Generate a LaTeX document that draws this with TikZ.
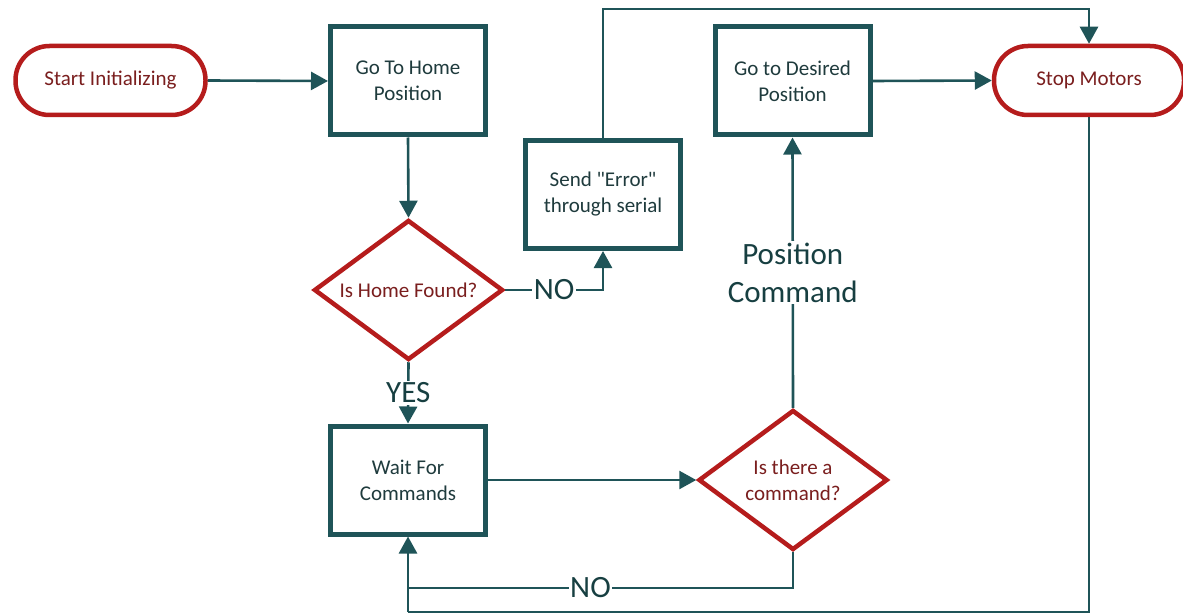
\documentclass[tikz,border=0pt]{standalone}
\usepackage{fontspec}
% no TeX input mapping, so straight quotes stay straight
\setmainfont{Carlito}[Ligatures=TeXOff]
\usetikzlibrary{shapes.geometric,arrows.meta}

\definecolor{flowteal}{HTML}{1F5458}
\definecolor{flowred}{HTML}{B51C1C}
\definecolor{termtext}{HTML}{7A1E1E}
\definecolor{boxtext}{HTML}{1F3B3D}
\definecolor{labeltext}{HTML}{173F41}

\tikzset{
  terminal/.style={draw=flowred, line width=4.5pt, rectangle, rounded corners=34pt,
    minimum width=190pt, minimum height=69pt, inner sep=0pt,
    text=termtext, font=\fontsize{21}{26}\selectfont, fill=white},
  process/.style={draw=flowteal, line width=5pt, rectangle,
    minimum width=155pt, minimum height=108pt, inner sep=0pt, align=center,
    text=boxtext, font=\fontsize{21}{26}\selectfont, fill=white},
  decision/.style={draw=flowred, line width=4.5pt, diamond, aspect=1.37,
    minimum width=189pt, minimum height=140pt, inner sep=0pt, align=center,
    text=termtext, font=\fontsize{21}{26}\selectfont, fill=white},
  flow/.style={draw=flowteal, line width=2.6pt,
    -{Triangle[length=17pt,width=18pt]}},
  plainflow/.style={draw=flowteal, line width=2.6pt},
  branch/.style={fill=white, inner sep=2pt, text=labeltext,
    font=\fontsize{31}{38}\selectfont, align=center}
}

\begin{document}
\begin{tikzpicture}[x=1pt,y=-1pt]
  \useasboundingbox (0,0) rectangle (1183,615);

  % nodes
  \node[terminal] (start) at (110.5,80.5) {Start Initializing};
  \node[process]  (home)  at (408,81)  {Go To Home\\Position};
  \node[decision] (found) at (408.5,290) {Is Home Found?};
  \node[process]  (err)   at (603,194.5) {Send \textquotedbl Error\textquotedbl\\through serial};
  \node[process]  (goto)  at (792.5,81) {Go to Desired\\Position};
  \node[terminal] (stop)  at (1089,80.5) {Stop Motors};
  \node[process]  (wait)  at (408,480) {Wait For\\Commands};
  \node[decision] (cmd)   at (793,480) {Is there a\\command?};

  \coordinate (topright) at (1089,9);
  \coordinate (loopno)   at (408,588);
  \coordinate (loopstop) at (408,612);

  % connectors
  \draw[flow] (start.east) -- (home.west);
  \draw[flow] (home.south) -- (found.north);
  \draw[flow] (found.east) -| node[branch, pos=0.25] {NO} (err.south);
  \draw[flow] (err.north) |- (topright) -- (stop.north);
  \draw[flow] (found.south) -- node[branch] {YES} (wait.north);
  \draw[flow] (wait.east) -- (cmd.west);
  \draw[flow] (cmd.north) -- node[branch, pos=0.5] {Position\\Command} (goto.south);
  \draw[flow] (goto.east) -- (stop.west);
  \draw[plainflow] (cmd.south) |- node[branch, pos=0.763, inner sep=1pt] {NO} (loopno);
  \draw[plainflow] (stop.south) |- (loopstop);
  \draw[flow] (loopstop) -- (wait.south);
\end{tikzpicture}
\end{document}
